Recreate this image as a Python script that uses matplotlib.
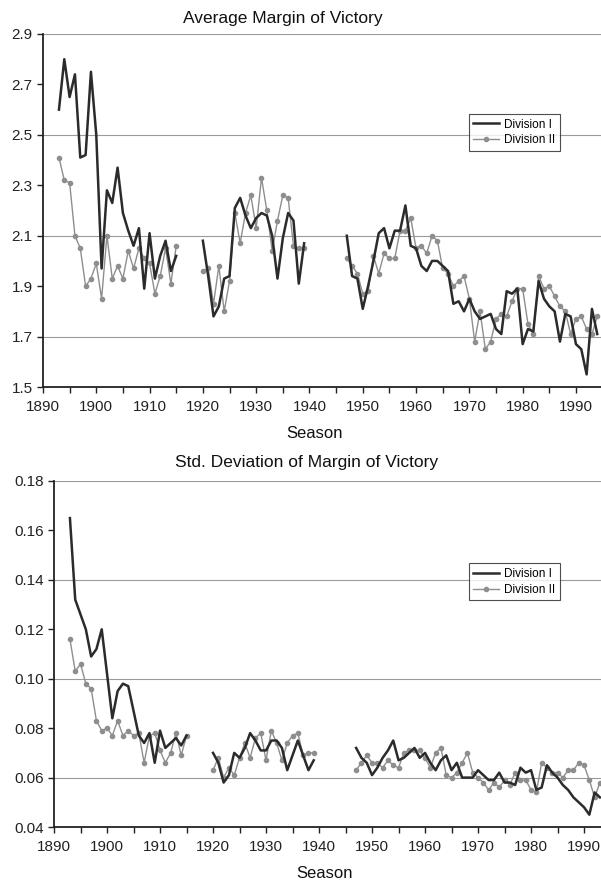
import numpy as np
import matplotlib
matplotlib.use("Agg")
import matplotlib.pyplot as plt
from matplotlib.ticker import MultipleLocator, FixedLocator, FormatStrFormatter

plt.rcParams['font.family'] = ['Liberation Sans', 'DejaVu Sans']

# seasons, three runs of play separated by gaps
years_a = list(range(1893, 1916))
years_b = list(range(1920, 1940))
years_c = list(range(1947, 1995))
years_c_sd = list(range(1947, 1994))

# Average margin of victory
avg_div1_a = [2.60, 2.80, 2.65, 2.74, 2.41, 2.42, 2.75, 2.50, 1.97, 2.28, 2.23, 2.37,
              2.19, 2.12, 2.06, 2.13, 1.89, 2.11, 1.93, 2.02, 2.08, 1.96, 2.02]
avg_div2_a = [2.41, 2.32, 2.31, 2.10, 2.05, 1.90, 1.93, 1.99, 1.85, 2.10, 1.93, 1.98,
              1.93, 2.04, 1.97, 2.05, 2.01, 1.99, 1.87, 1.94, 2.05, 1.91, 2.06]
avg_div1_b = [2.08, 1.94, 1.78, 1.82, 1.93, 1.94, 2.21, 2.25, 2.18, 2.13, 2.17, 2.19,
              2.18, 2.10, 1.93, 2.09, 2.19, 2.16, 1.91, 2.07]
avg_div2_b = [1.96, 1.97, 1.83, 1.98, 1.80, 1.92, 2.19, 2.07, 2.19, 2.26, 2.13, 2.33,
              2.20, 2.04, 2.16, 2.26, 2.25, 2.06, 2.05, 2.05]
avg_div1_c = [2.10, 1.94, 1.93, 1.81, 1.90, 2.00, 2.11, 2.13, 2.05, 2.12,
              2.12, 2.22, 2.06, 2.05, 1.98, 1.96, 2.00, 2.00, 1.98, 1.96,
              1.83, 1.84, 1.80, 1.85, 1.80, 1.77, 1.78, 1.79, 1.73, 1.71,
              1.88, 1.87, 1.89, 1.67, 1.73, 1.72, 1.92, 1.85, 1.82, 1.80,
              1.68, 1.79, 1.78, 1.67, 1.65, 1.55, 1.81, 1.71]
avg_div2_c = [2.01, 1.98, 1.95, 1.87, 1.88, 2.02, 1.95, 2.03, 2.01, 2.01,
              2.12, 2.12, 2.17, 2.05, 2.06, 2.03, 2.10, 2.08, 1.97, 1.95,
              1.90, 1.92, 1.94, 1.85, 1.68, 1.80, 1.65, 1.68, 1.77, 1.79,
              1.78, 1.84, 1.89, 1.89, 1.75, 1.71, 1.94, 1.89, 1.90, 1.86,
              1.82, 1.80, 1.71, 1.77, 1.78, 1.73, 1.71, 1.78]

# Std. deviation of margin of victory
sd_div1_a = [0.165, 0.132, 0.126, 0.120, 0.109, 0.112, 0.120, 0.102, 0.084, 0.095, 0.098, 0.097,
             0.087, 0.077, 0.074, 0.078, 0.066, 0.079, 0.072, 0.074, 0.076, 0.073, 0.077]
sd_div2_a = [0.116, 0.103, 0.106, 0.098, 0.096, 0.083, 0.079, 0.080, 0.077, 0.083, 0.077, 0.079,
             0.077, 0.078, 0.066, 0.077, 0.078, 0.071, 0.066, 0.070, 0.078, 0.069, 0.077]
sd_div1_b = [0.070, 0.066, 0.058, 0.061, 0.070, 0.068, 0.072, 0.078, 0.075, 0.071,
             0.071, 0.075, 0.075, 0.072, 0.063, 0.069, 0.075, 0.069, 0.063, 0.067]
sd_div2_b = [0.063, 0.068, 0.060, 0.064, 0.061, 0.068, 0.074, 0.068, 0.076, 0.078,
             0.067, 0.079, 0.074, 0.067, 0.074, 0.077, 0.078, 0.069, 0.070, 0.070]
sd_div1_c = [0.072, 0.068, 0.066, 0.061, 0.064, 0.068, 0.071, 0.075, 0.067, 0.068,
             0.070, 0.072, 0.068, 0.070, 0.066, 0.063, 0.067, 0.069, 0.063, 0.066,
             0.060, 0.060, 0.060, 0.063, 0.061, 0.059, 0.059, 0.062, 0.058, 0.058,
             0.057, 0.064, 0.062, 0.063, 0.055, 0.056, 0.065, 0.062, 0.060, 0.057,
             0.055, 0.052, 0.050, 0.048, 0.045, 0.054, 0.052]
sd_div2_c = [0.063, 0.066, 0.069, 0.066, 0.066, 0.064, 0.067, 0.065, 0.064, 0.070,
             0.071, 0.071, 0.071, 0.068, 0.064, 0.070, 0.072, 0.061, 0.060, 0.062,
             0.066, 0.070, 0.062, 0.060, 0.058, 0.055, 0.058, 0.056, 0.059, 0.057,
             0.062, 0.059, 0.059, 0.055, 0.054, 0.066, 0.064, 0.062, 0.062, 0.060,
             0.063, 0.063, 0.066, 0.065, 0.059, 0.052, 0.058]

DARK = '#2b2b2b'
GREY = '#8e8e8e'


def draw_panel(ax, segs1, segs2, ylim, ystep, gridstep, fmt, xmax):
    for yrs, vals in segs2:
        l2, = ax.plot(yrs, vals, color=GREY, lw=1.0, marker='o', ms=3,
                      mec=GREY, mfc=GREY, zorder=3)
    for yrs, vals in segs1:
        l1, = ax.plot(yrs, vals, color=DARK, lw=1.8, zorder=4)
    ax.set_xlim(1890, xmax)
    ax.set_ylim(*ylim)
    ax.xaxis.set_major_locator(MultipleLocator(10))
    ax.xaxis.set_minor_locator(MultipleLocator(5))
    yt = np.arange(ylim[0], ylim[1] + ystep / 2, ystep)
    ax.yaxis.set_major_locator(FixedLocator(yt))
    ax.yaxis.set_major_formatter(FormatStrFormatter(fmt))
    for g in np.arange(ylim[1], ylim[0], -gridstep):
        ax.axhline(g, color='#9a9a9a', lw=0.8, zorder=1)
    for s in ['top', 'right']:
        ax.spines[s].set_visible(False)
    for s in ['left', 'bottom']:
        ax.spines[s].set_linewidth(1.3)
        ax.spines[s].set_color('#222222')
    ax.tick_params(which='both', direction='out', length=4, width=1.0,
                   labelsize=11, colors='#222222')
    ax.tick_params(axis='x', pad=5)
    return l1, l2


fig = plt.figure(figsize=(6.01, 8.85), dpi=100)

ax1 = fig.add_axes([0.0715, 0.5627, 0.9285, 0.3989])
h1, h2 = draw_panel(ax1,
                    [(years_a, avg_div1_a), (years_b, avg_div1_b), (years_c, avg_div1_c)],
                    [(years_a, avg_div2_a), (years_b, avg_div2_b), (years_c, avg_div2_c)],
                    (1.5, 2.9), 0.2, 0.4, '%.1f', 1994.7)
leg1 = ax1.legend([h1, h2], ['Division I', 'Division II'], loc='upper left',
                  bbox_to_anchor=(0.770, 0.878), bbox_transform=fig.transFigure,
                  fontsize=8.5, frameon=True, fancybox=False, handlelength=2.2,
                  borderpad=0.4, labelspacing=0.3, handletextpad=0.4)
leg1.get_frame().set_edgecolor('#222222')
leg1.get_frame().set_linewidth(0.8)

ax2 = fig.add_axes([0.0899, 0.0655, 0.9101, 0.391])
h1, h2 = draw_panel(ax2,
                    [(years_a, sd_div1_a), (years_b, sd_div1_b), (years_c_sd, sd_div1_c)],
                    [(years_a, sd_div2_a), (years_b, sd_div2_b), (years_c_sd, sd_div2_c)],
                    (0.04, 0.18), 0.02, 0.04, '%.2f', 1993.2)
leg2 = ax2.legend([h1, h2], ['Division I', 'Division II'], loc='upper left',
                  bbox_to_anchor=(0.770, 0.370), bbox_transform=fig.transFigure,
                  fontsize=8.5, frameon=True, fancybox=False, handlelength=2.2,
                  borderpad=0.4, labelspacing=0.3, handletextpad=0.4)
leg2.get_frame().set_edgecolor('#222222')
leg2.get_frame().set_linewidth(0.8)

# titles and axis labels
fig.text(283 / 601, 1 - 18 / 885, 'Average Margin of Victory', ha='center', va='center',
         fontsize=12.5, color='#111111')
fig.text(315 / 601, 1 - 433 / 885, 'Season', ha='center', va='center', fontsize=12, color='#111111')
fig.text(307 / 601, 1 - 462 / 885, 'Std. Deviation of Margin of Victory', ha='center', va='center',
         fontsize=12.5, color='#111111')
fig.text(325 / 601, 1 - 873 / 885, 'Season', ha='center', va='center', fontsize=12, color='#111111')

fig.savefig('out.png', dpi=100)
